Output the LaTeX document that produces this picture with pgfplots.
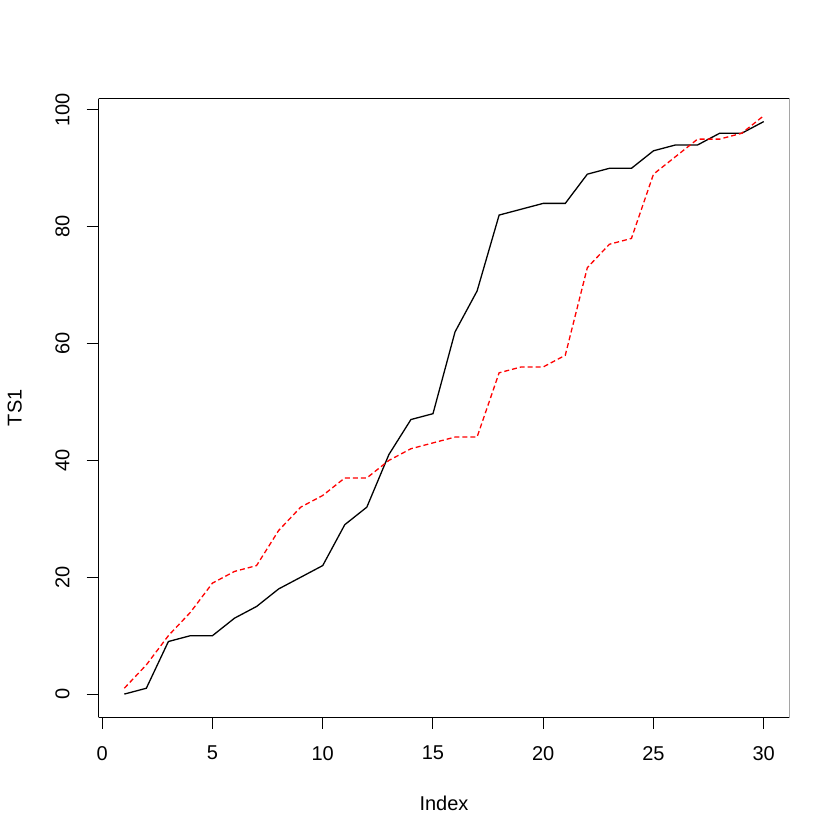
\documentclass[border=0pt]{standalone}
\usepackage{pgfplots}
\pgfplotsset{compat=1.18}
\usepackage{fontspec}
\setmainfont{Liberation Sans}
\begin{document}
\fontsize{20pt}{24pt}\selectfont
\begin{tikzpicture}
\begin{axis}[
  at={(0,0)}, anchor=south west,
  scale only axis,
  width=690.6pt, height=618.3pt,
  xmin=-0.16, xmax=31.16,
  ymin=-3.92, ymax=101.92,
  xtick={0,5,10,15,20,25,30},
  ytick={0,20,40,60,80,100},
  axis x line*=bottom, axis y line*=left,
  tick align=outside,
  major tick length=12pt,
  tick style={black, line width=1pt},
  axis line style={line width=1pt},
  /pgf/number format/assume math mode=true,
  ticklabel style={font=\fontsize{20pt}{24pt}\selectfont, inner sep=0pt},
  xticklabel style={anchor=north},
  yticklabel style={rotate=90, anchor=south},
  xticklabel shift=17pt,
  yticklabel shift=17pt,
  xlabel={Index}, ylabel={TS1},
  label style={font=\fontsize{20pt}{24pt}\selectfont},
  x label style={at={([yshift=-86pt]axis description cs:0.5,0)}, anchor=center},
  y label style={at={([xshift=-84pt]axis description cs:0,0.5)}, anchor=center},
  clip=true,
]
\draw[line width=1pt] (rel axis cs:0,0) rectangle (rel axis cs:1,1);
\addplot[black, line width=1.3pt] coordinates {
(1,0) (2,1) (3,9) (4,10) (5,10) (6,13) (7,15) (8,18) (9,20) (10,22)
(11,29) (12,32) (13,41) (14,47) (15,48) (16,62) (17,69) (18,82) (19,83) (20,84)
(21,84) (22,89) (23,90) (24,90) (25,93) (26,94) (27,94) (28,96) (29,96) (30,98)
};
\addplot[red, line width=1.3pt, dash pattern=on 5pt off 3pt] coordinates {
(1,1) (2,5) (3,10) (4,14) (5,19) (6,21) (7,22) (8,28) (9,32) (10,34)
(11,37) (12,37) (13,40) (14,42) (15,43) (16,44) (17,44) (18,55) (19,56) (20,56)
(21,58) (22,73) (23,77) (24,78) (25,89) (26,92) (27,95) (28,95) (29,96) (30,99)
};
\end{axis}
\pgfresetboundingbox
\path[use as bounding box] (-98.7pt,-123pt) rectangle (741.3pt,717pt);
\end{tikzpicture}
\end{document}
